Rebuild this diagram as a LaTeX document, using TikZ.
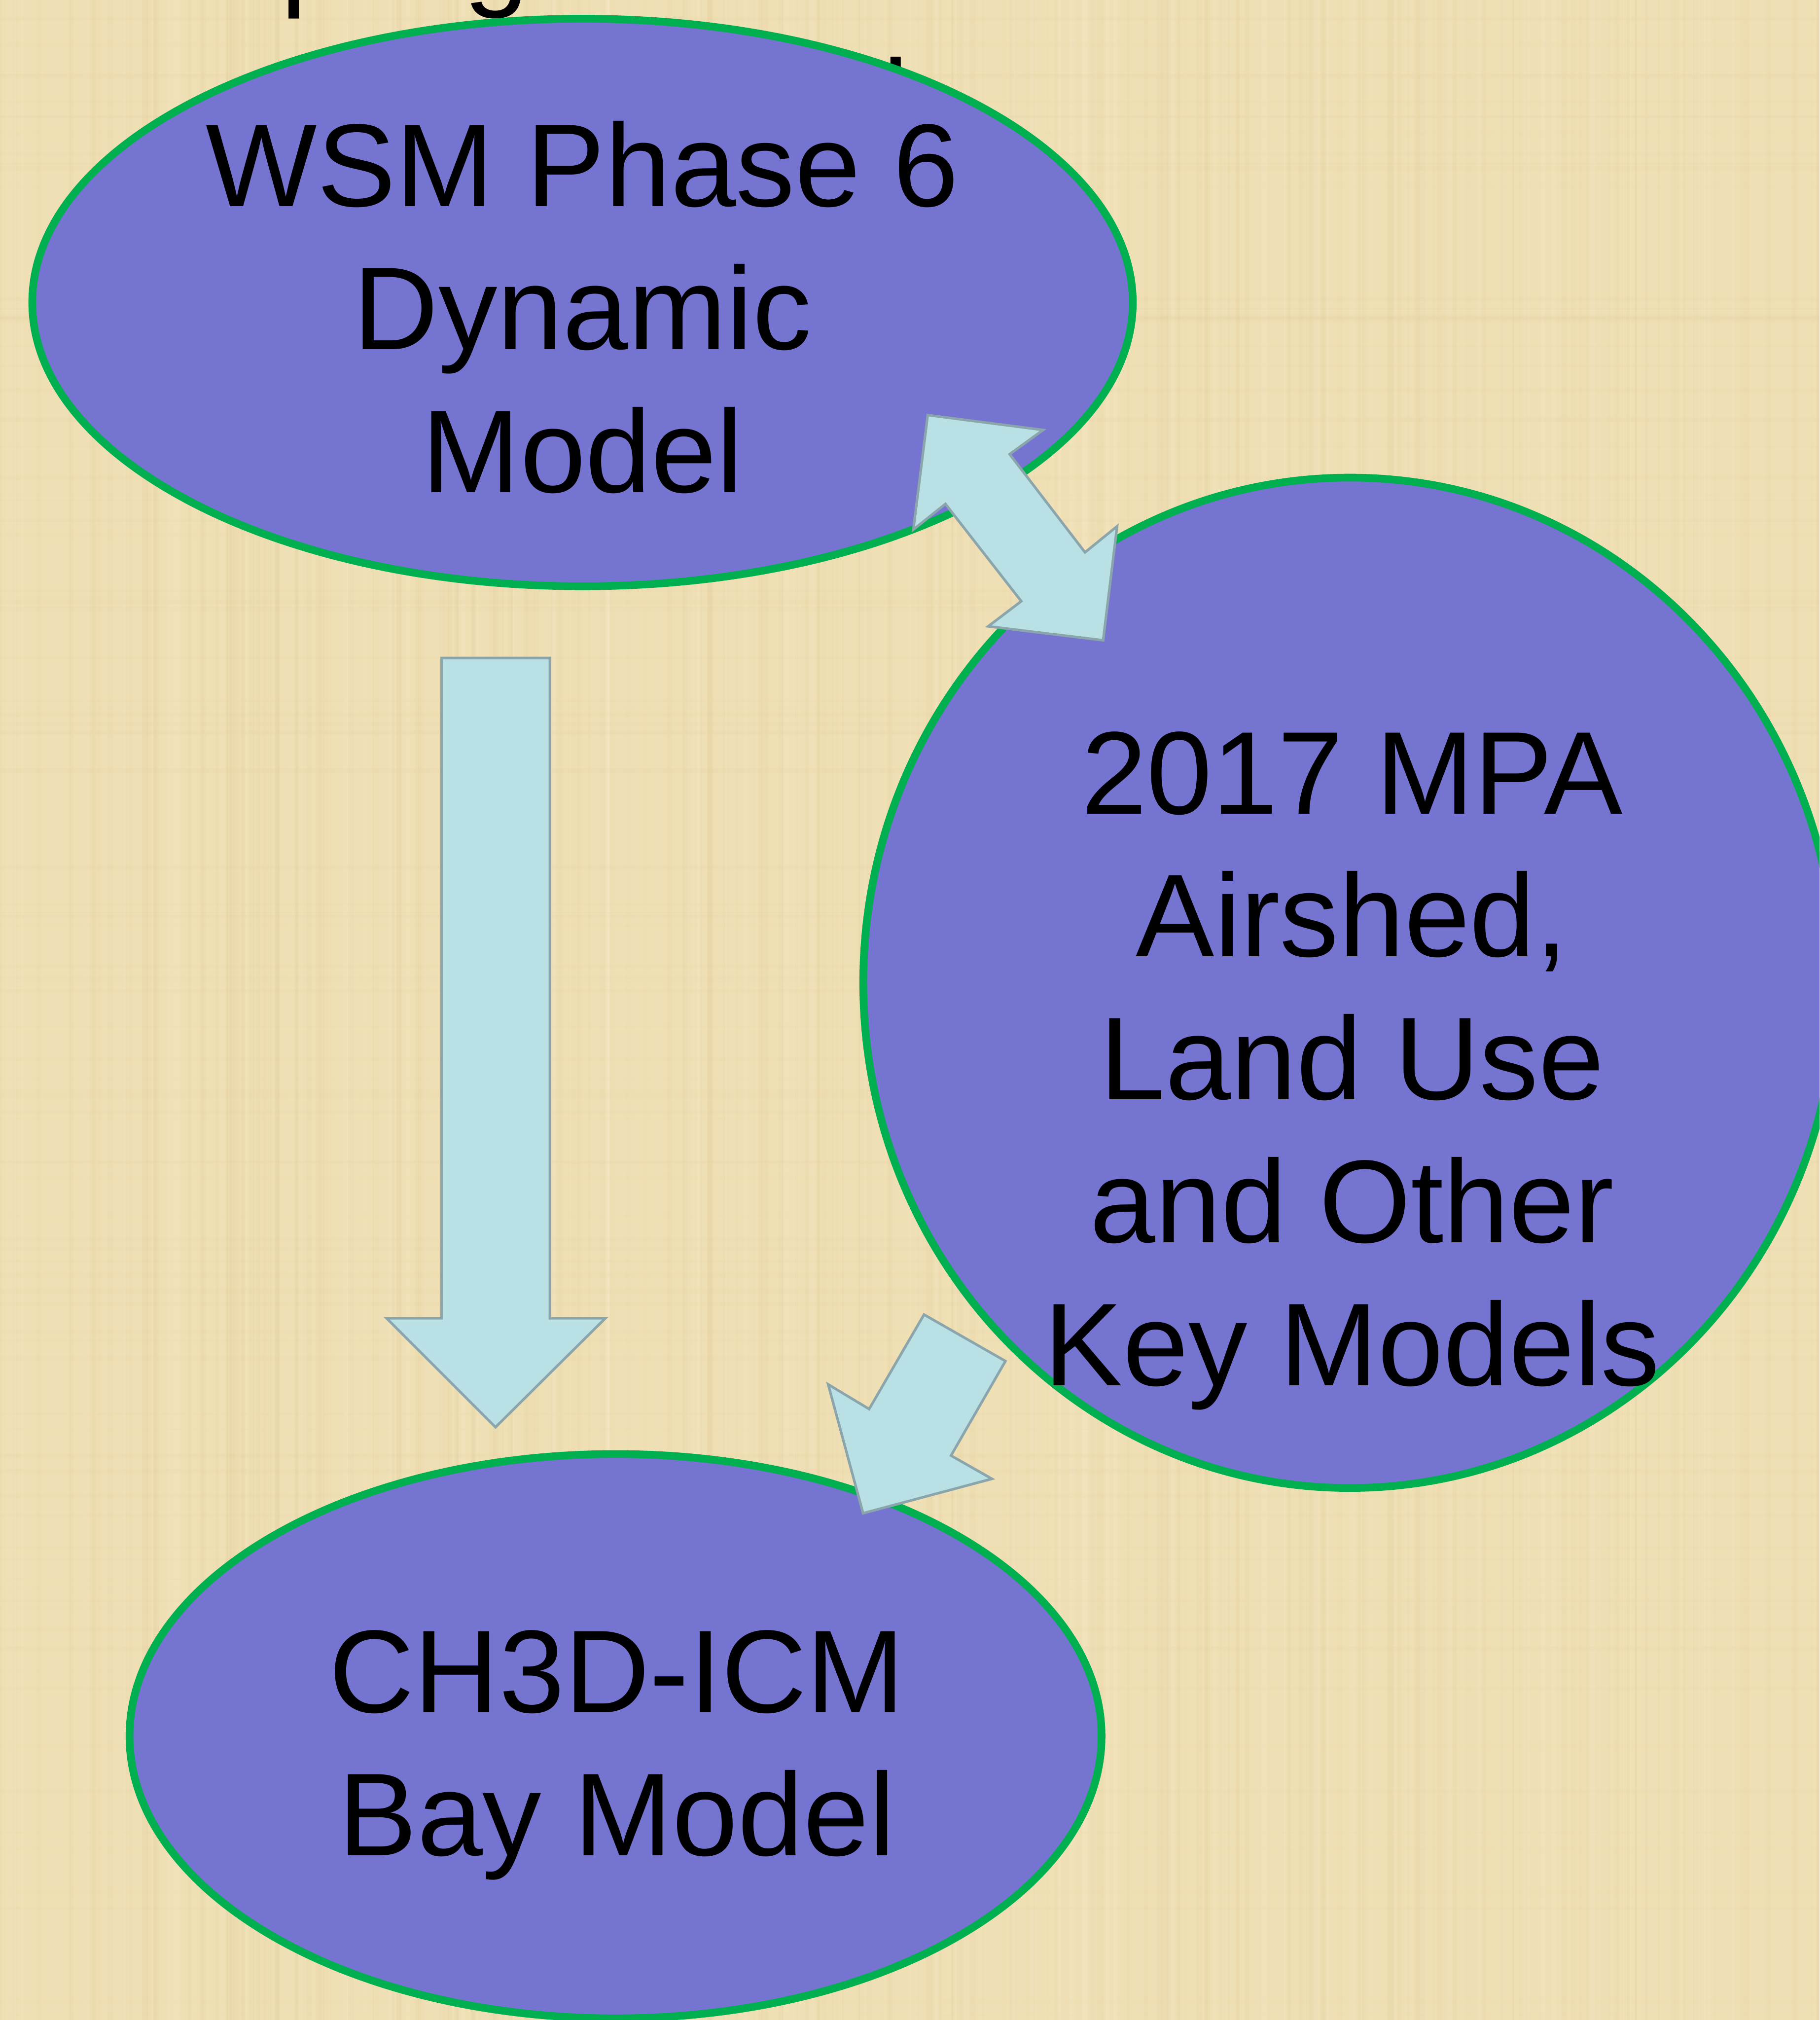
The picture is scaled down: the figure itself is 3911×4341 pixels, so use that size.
\documentclass[tikz,border=0pt]{standalone}
\usepackage{fontspec}
\setmainfont{Liberation Sans}
\usetikzlibrary{shapes.geometric}
\definecolor{bgbeige}{RGB}{239,223,180}
\definecolor{bgstreak}{RGB}{214,192,138}
\definecolor{bglight}{RGB}{248,236,205}
\definecolor{modelfill}{RGB}{117,116,208}
\definecolor{modelline}{RGB}{0,176,80}
\definecolor{arrowfill}{RGB}{185,224,228}
\definecolor{arrowline}{RGB}{138,165,171}
\tikzset{
  modelshape/.style={ellipse, draw=modelline, fill=modelfill, line width=0.165cm, inner sep=0pt},
  modeltext/.style={anchor=base, align=center, text=black, inner sep=0pt, font=\fontsize{72}{87.3}\selectfont},
  titletext/.style={inner sep=0pt, text=black, font=\fontsize{72}{87.3}\selectfont},
  blockarrow/.style={fill=arrowfill, draw=arrowline, line width=0.055cm, line join=miter}
}
\begin{document}
\begin{tikzpicture}[x=0.01cm, y=-0.01cm]
\useasboundingbox (0,0) rectangle (3911,4341);
\begin{scope}
\clip (0,0) rectangle (3911,4341);
\fill[bgbeige] (0,0) rectangle (3911,4341);
% faint woven paper texture
\pgfmathsetseed{7}
\foreach \i in {0,...,260}{
  \pgfmathsetmacro{\sx}{rnd*3911}
  \pgfmathsetmacro{\sw}{3+rnd*10}
  \pgfmathsetmacro{\so}{0.02+rnd*0.08}
  \fill[bgstreak, opacity=\so] (\sx,0) rectangle ++(\sw,4341);
}
\foreach \i in {0,...,120}{
  \pgfmathsetmacro{\sx}{rnd*3911}
  \pgfmathsetmacro{\sw}{3+rnd*10}
  \pgfmathsetmacro{\so}{0.05+rnd*0.2}
  \fill[bglight, opacity=\so] (\sx,0) rectangle ++(\sw,4341);
}
\foreach \i in {0,...,90}{
  \pgfmathsetmacro{\sy}{rnd*4341}
  \pgfmathsetmacro{\sw}{3+rnd*8}
  \pgfmathsetmacro{\so}{0.02+rnd*0.05}
  \fill[bgstreak, opacity=\so] (0,\sy) rectangle ++(3911,\sw);
}
% title, mostly outside the frame and behind the top ellipse
\node[titletext, anchor=base west] (title1) at (138,-12) {Coupling of Models};
\node[titletext, anchor=base east] (title2) at (1954,306) {Used};
% models
\node[modelshape, minimum width=23.64cm, minimum height=12.19cm] (wsm) at (1252,650) {};
\node[modelshape, minimum width=20.9cm, minimum height=21.70cm] (mpa) at (2901,2112) {};
\node[modelshape, minimum width=20.88cm, minimum height=12.12cm] (bay) at (1323,3731) {};
% block arrows
\draw[blockarrow] (949,1414) -- (1182,1414) -- (1182,2833) -- (1301,2833) -- (1065,3067)
  -- (831,2833) -- (949,2833) -- cycle;
\draw[blockarrow] (1994,892) -- (2242,924) -- (2170,976) -- (2332,1187) -- (2401,1131)
  -- (2371,1376) -- (2124,1346) -- (2195,1292) -- (2032,1083) -- (1963,1138) -- cycle;
\draw[blockarrow] (1986,2825) -- (2161,2925) -- (2044,3128) -- (2132,3178) -- (1855,3252)
  -- (1780,2975) -- (1868,3028) -- cycle;
% texts (base anchor = baseline of the last line)
\node[modeltext] (wsmtext) at (1252,1058) {WSM Phase 6\\Dynamic\\Model};
\node[modeltext] (mpatext) at (2906,2977) {2017 MPA\\Airshed,\\Land Use\\and Other\\Key Models};
\node[modeltext] (baytext) at (1326,3987) {CH3D-ICM\\Bay Model};
\end{scope}
\end{tikzpicture}
\end{document}
